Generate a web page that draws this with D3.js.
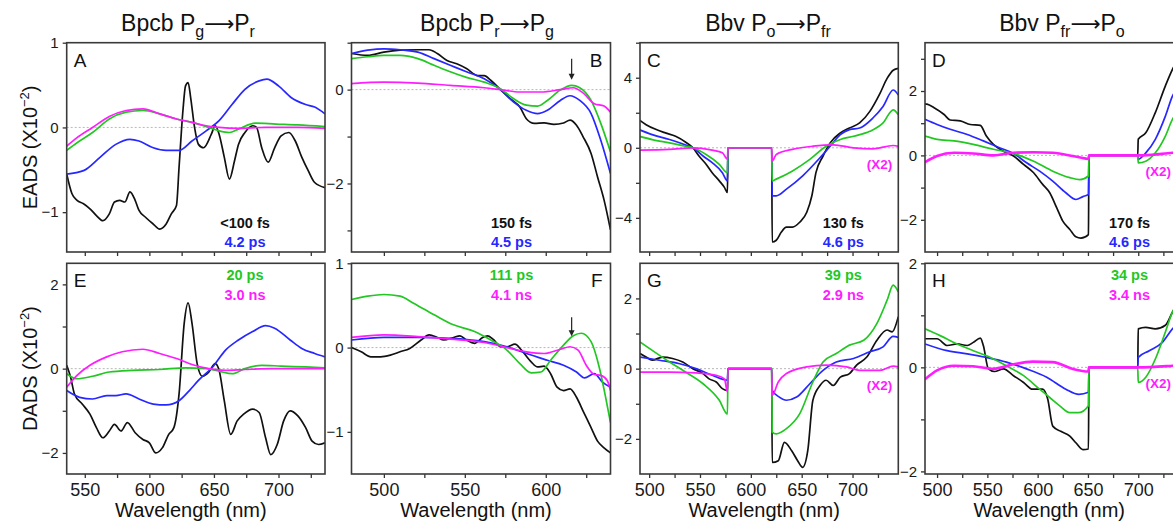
<!DOCTYPE html>
<html>
<head>
<meta charset="utf-8">
<script src="https://cdn.jsdelivr.net/npm/d3@7"></script>
<style>
body { margin: 0; background: #fff; }
svg { display: block; font-family: "Liberation Sans", Arial, sans-serif; }
</style>
</head>
<body>
<script>
// ---- data: [wavelength nm, amplitude x10^-2] ----
// panel A  (Bpcb Pg->Pr, EADS)
const A_black = [[536,-0.55],[540,-0.78],[544,-0.86],[549,-0.9],[554,-0.96],[559,-1.04],[564,-1.1],[569,-1.02],[573,-0.88],[577,-0.86],[581,-0.88],[585,-0.76],[589,-0.86],[592,-0.98],[597,-1.06],[603,-1.14],[608,-1.2],[613,-1.14],[617,-1.02],[621,-0.92],[623,-0.47],[626,0.2],[628,0.49],[630,0.53],[632,0.35],[635,0],[638,-0.2],[642,-0.24],[648,-0.08],[651,0.02],[654,-0.08],[658,-0.35],[662,-0.61],[666,-0.39],[669,-0.2],[674,-0.06],[680,0.02],[683,0],[687,-0.24],[692,-0.41],[697,-0.24],[702,-0.1],[708,-0.06],[713,-0.16],[718,-0.35],[723,-0.51],[728,-0.65],[736,-0.71]];
const A_blue = [[536,-0.55],[549,-0.51],[562,-0.35],[574,-0.2],[585,-0.14],[592,-0.16],[603,-0.24],[613,-0.27],[623,-0.27],[633,-0.16],[644,-0.04],[654,0.08],[664,0.27],[674,0.45],[685,0.55],[691,0.57],[700,0.49],[710,0.35],[721,0.27],[728,0.24],[736,0.16]];
const A_green = [[536,-0.27],[544,-0.18],[556,-0.06],[569,0.1],[582,0.18],[595,0.2],[608,0.16],[621,0.1],[633,0.06],[646,0],[654,-0.04],[662,-0.06],[669,-0.02],[682,0.05],[698,0.04],[715,0.03],[736,0.01]];
const A_magenta = [[536,-0.22],[544,-0.12],[556,0],[569,0.13],[582,0.2],[595,0.22],[608,0.16],[621,0.1],[633,0.06],[644,0.02],[654,0],[669,-0.01],[690,0],[715,0],[736,-0.01]];

// panel B  (Bpcb Pr->Pg, EADS)
const B_black = [[480,0.77],[490,0.73],[500,0.8],[510,0.84],[521,0.85],[528,0.85],[533,0.77],[539,0.62],[545,0.55],[551,0.45],[558,0.3],[562,0.3],[566,0.2],[572,0],[578,-0.19],[584,-0.37],[588,-0.62],[593,-0.72],[599,-0.71],[605,-0.74],[611,-0.71],[615,-0.65],[619,-0.76],[623,-1.0],[628,-1.36],[632,-1.86],[636,-2.35],[640,-2.99]];
const B_blue = [[480,0.77],[490,0.84],[500,0.87],[510,0.85],[521,0.8],[531,0.66],[541,0.52],[551,0.38],[562,0.23],[572,0],[580,-0.26],[588,-0.44],[595,-0.51],[601,-0.44],[609,-0.23],[615,-0.13],[621,-0.23],[628,-0.51],[634,-1.08],[640,-1.79]];
const B_green = [[480,0.66],[490,0.7],[500,0.73],[510,0.73],[521,0.66],[531,0.52],[541,0.38],[551,0.26],[562,0.16],[572,0.02],[580,-0.19],[588,-0.33],[595,-0.35],[601,-0.23],[609,-0.01],[616,0.09],[621,0.04],[628,-0.23],[634,-0.72],[640,-1.33]];
const B_magenta = [[480,0.13],[500,0.16],[521,0.14],[541,0.09],[562,0.04],[572,0],[584,-0.05],[597,-0.05],[609,0],[617,0.04],[623,-0.07],[630,-0.3],[636,-0.35],[640,-0.48]];

// panel C  (Bbv Po->Pfr, EADS)
const C_black = [[490,1.6],[497,1.32],[507,1.04],[516,0.85],[526,0.66],[536,0.32],[543,0],[549,-0.47],[556,-0.94],[562,-1.42],[569,-1.89],[574,-2.26],[577,-2.55],[577.5,0],[620.5,0],[621,-5.38],[625,-5.28],[630,-4.81],[635,-4.53],[641,-4.53],[648,-4.25],[655,-3.68],[660,-2.74],[664,-1.42],[671,-0.47],[678,0.28],[688,0.85],[697,1.13],[707,1.42],[717,2.08],[727,3.11],[734,3.96],[740,4.43],[745,4.53]];
const C_blue = [[490,1.04],[503,0.75],[520,0.47],[536,0.15],[543,0],[553,-0.47],[562,-0.85],[572,-1.42],[577,-1.89],[577.5,0],[620.5,0],[621,-2.74],[625,-2.74],[635,-2.36],[651,-1.6],[668,-0.57],[678,0.09],[688,0.75],[697,1.04],[707,1.13],[720,1.7],[730,2.36],[740,3.3],[745,3.02]];
const C_green = [[490,0.66],[503,0.47],[520,0.28],[536,0.09],[543,0],[556,-0.38],[569,-0.94],[577,-1.42],[577.5,0],[620.5,0],[621,-1.89],[625,-1.79],[641,-1.32],[658,-0.66],[674,0.09],[688,0.47],[701,0.66],[717,0.94],[730,1.42],[740,2.17],[745,1.89]];
const C_magenta = [[490,-0.13],[520,-0.09],[543,0],[562,-0.13],[572,-0.28],[577,-0.66],[577.5,0],[620.5,0],[621,-0.75],[625,-0.38],[641,-0.09],[661,0.09],[681,0.17],[701,0],[720,-0.06],[740,0.13],[745,0.09]];

// panel D  (Bbv Pfr->Po, EADS)
const D_black = [[488,1.6],[490,1.59],[497,1.48],[507,1.27],[513,1.1],[523,1.07],[533,0.96],[543,0.93],[549,0.6],[556,0.34],[566,0.13],[576,-0.02],[586,-0.28],[596,-0.54],[605,-0.9],[612,-1.16],[619,-1.63],[625,-2.04],[632,-2.3],[638,-2.53],[643,-2.57],[650.5,-2.46],[651,0],[699.5,0],[700,0.5],[707.5,0.7],[717,1.33],[727,2.16],[734,2.67],[742,3.1]];
const D_blue = [[488,1.12],[500,0.96],[513,0.81],[530,0.65],[546,0.45],[562,0.24],[576,0.06],[589,-0.23],[602,-0.49],[615,-0.8],[628,-1.16],[638,-1.37],[645,-1.28],[650.5,-1.21],[651,0],[699.5,0],[700,-0.12],[707.5,0.08],[717,0.5],[727,1.22],[734,1.84],[742,2.2]];
const D_green = [[488,0.6],[500,0.5],[517,0.45],[536,0.34],[556,0.19],[576,0.06],[596,-0.18],[615,-0.49],[632,-0.69],[642,-0.75],[650.5,-0.64],[651,0],[699.5,0],[700,-0.23],[707.5,-0.18],[717,0.08],[727,0.6],[734,1.12],[742,1.4]];
const D_magenta = [[488,-0.21],[500,-0.02],[517,0.08],[536,0.06],[556,0],[576,0.08],[596,0.1],[615,0.08],[635,-0.02],[648,-0.1],[650.5,-0.12],[651,0],[699.5,0],[700,0],[734,0.08],[742,0.1]];

// panel E  (Bpcb Pg->Pr, DADS)
const E_black = [[536,0.08],[539,-0.2],[542,-0.6],[548,-0.84],[554,-1.08],[559,-1.4],[564,-1.64],[569,-1.48],[573,-1.32],[578,-1.48],[583,-1.28],[589,-1.52],[595,-1.68],[600,-1.76],[605,-2.0],[610,-1.88],[615,-1.56],[619,-1.4],[623,-0.6],[627,1.08],[630,1.56],[633,1.08],[637,0.12],[641,-0.18],[646,-0.08],[651,0.12],[654,-0.04],[658,-0.76],[663,-1.56],[668,-1.24],[673,-1.08],[680,-0.96],[685,-1.04],[690,-1.64],[694,-2.04],[699,-1.8],[704,-1.24],[709,-1.0],[715,-1.12],[721,-1.4],[726,-1.72],[731,-1.8],[736,-1.76]];
const E_blue = [[536,-0.52],[546,-0.68],[556,-0.72],[567,-0.64],[574,-0.64],[582,-0.6],[592,-0.72],[603,-0.84],[613,-0.86],[623,-0.76],[631,-0.52],[638,-0.28],[649,0.04],[659,0.44],[669,0.68],[680,0.88],[690,1.02],[697,0.96],[709,0.68],[718,0.48],[728,0.36],[736,0.28]];
const E_green = [[536,-0.12],[544,-0.24],[556,-0.18],[569,-0.08],[587,-0.04],[608,-0.02],[628,0.02],[644,0],[654,-0.06],[664,-0.12],[674,0],[687,0.08],[702,0.06],[721,0.04],[736,0.02]];
const E_magenta = [[536,-0.44],[544,-0.16],[554,0.08],[567,0.28],[579,0.4],[595,0.46],[608,0.36],[621,0.24],[633,0.1],[646,0],[659,-0.04],[674,-0.02],[695,0],[736,0]];

// panel F  (Bpcb Pr->Pg, DADS)
const F_black = [[480,0],[486,-0.05],[492,-0.11],[498,-0.11],[504,-0.09],[510,-0.05],[516,-0.01],[523,0.09],[528,0.15],[533,0.12],[537,0.09],[543,0.12],[547,0.14],[551,0.09],[556,0.05],[561,0.12],[564,0.14],[568,0.09],[572,0.01],[576,0.01],[581,0.04],[585,-0.03],[591,-0.17],[595,-0.23],[599,-0.22],[603,-0.31],[607,-0.47],[611,-0.51],[615,-0.49],[619,-0.59],[623,-0.75],[628,-0.95],[632,-1.11],[636,-1.19],[640,-1.25]];
const F_blue = [[480,0.09],[500,0.12],[521,0.12],[541,0.11],[562,0.07],[576,0.01],[588,-0.07],[601,-0.15],[611,-0.21],[619,-0.29],[624,-0.36],[630,-0.31],[635,-0.41],[640,-0.47]];
const F_green = [[480,0.57],[490,0.61],[500,0.63],[510,0.61],[518,0.53],[531,0.39],[543,0.27],[556,0.19],[566,0.09],[576,-0.03],[584,-0.19],[591,-0.3],[597,-0.29],[603,-0.15],[611,0.03],[617,0.14],[622,0.17],[628,0.07],[633,-0.23],[637,-0.59],[640,-0.89]];
const F_magenta = [[480,0.12],[500,0.15],[521,0.13],[541,0.1],[562,0.06],[576,0],[588,-0.05],[599,-0.07],[609,-0.02],[615,0.01],[620,-0.03],[625,-0.21],[630,-0.32],[634,-0.33],[638,-0.39],[640,-0.51]];

// panel G  (Bbv Po->Pfr, DADS)
const G_black = [[491,0.43],[497,0.33],[503,0.24],[513,0.33],[523,0.29],[533,0.19],[543,0],[553,-0.14],[559,-0.29],[566,-0.38],[572,-0.57],[577,-0.62],[577.5,0],[620.5,0],[621,-2.67],[627,-2.62],[633,-2.1],[640,-2.33],[646,-2.62],[651,-2.81],[656,-2.33],[661,-0.9],[668,-0.48],[674,-0.33],[681,-0.48],[688,-0.24],[697,-0.14],[704,0.1],[714,0.33],[724,0.81],[734,1.1],[739,1.05],[745,1.48]];
const G_blue = [[491,0.33],[510,0.24],[530,0.14],[546,0],[562,-0.19],[577,-0.33],[577.5,0],[620.5,0],[621,-0.62],[628,-0.81],[635,-0.9],[645,-0.81],[658,-0.43],[671,-0.05],[684,0.19],[701,0.29],[717,0.48],[730,0.62],[740,0.92],[745,0.89]];
const G_green = [[491,0.76],[503,0.52],[520,0.19],[536,-0.1],[553,-0.43],[569,-0.9],[577,-1.29],[577.5,0],[620.5,0],[621,-1.81],[625,-1.86],[635,-1.71],[648,-1.29],[661,-0.38],[671,0.19],[684,0.43],[697,0.67],[711,0.81],[724,1.29],[734,1.95],[740,2.38],[745,2.19]];
const G_magenta = [[491,-0.1],[520,-0.1],[546,-0.12],[566,-0.19],[574,-0.29],[577,-0.67],[577.5,0],[620.5,0],[621,-0.76],[627,-0.38],[635,-0.14],[655,0.05],[674,0.1],[694,0.05],[707,-0.05],[727,-0.05],[740,0.07],[745,0.05]];

// panel H  (Bbv Pfr->Po, DADS)
const H_black = [[488,0.55],[500,0.55],[510,0.42],[520,0.45],[530,0.42],[536,0.48],[543,0.56],[546,0.42],[551,-0.03],[557,-0.08],[566,-0.03],[576,-0.16],[586,-0.29],[595,-0.42],[605,-0.42],[610,-0.61],[615,-1.13],[623,-1.23],[632,-1.32],[638,-1.45],[645,-1.58],[650.5,-1.57],[651,0],[699.5,0],[700,0.74],[707.5,0.77],[717,0.74],[727,0.81],[734,1.06],[742,1.3]];
const H_blue = [[488,0.45],[510,0.32],[530,0.26],[549,0.19],[569,0.1],[589,-0.03],[609,-0.19],[628,-0.42],[641,-0.52],[650.5,-0.48],[651,0],[699.5,0],[700,0.19],[711,0.32],[724,0.48],[734,0.74],[742,0.9]];
const H_green = [[488,0.74],[503,0.61],[520,0.45],[536,0.32],[553,0.19],[569,0.03],[586,-0.16],[602,-0.42],[612,-0.58],[622,-0.74],[632,-0.87],[641,-0.87],[650.5,-0.74],[651,0],[699.5,0],[700,-0.29],[707.5,-0.19],[717,0.16],[727,0.68],[734,1.06],[742,1.3]];
const H_magenta = [[488,-0.23],[500,-0.06],[517,0.03],[536,0.02],[556,-0.03],[576,0.06],[595,0.11],[615,0.1],[635,-0.03],[650.5,-0.08],[651,0],[699.5,0],[700,0],[734,0.03],[742,0.04]];

// lifetimes of the four components
const fastLife = ["<100 fs", "150 fs", "130 fs", "170 fs"];
const midLife = ["4.2 ps", "4.5 ps", "4.6 ps", "4.6 ps"];
const slowLife = ["20 ps", "111 ps", "39 ps", "34 ps"];
const finalLife = ["3.0 ns", "4.1 ns", "2.9 ns", "3.4 ns"];

// column titles
const titleMol = ["Bpcb", "Bpcb", "Bbv", "Bbv"];
const titleFrom = ["g", "r", "o", "fr"];
const titleTo = ["r", "g", "fr", "o"];

// axis ranges / ticks
const xDomains = [[536, 736], [480, 640], [491, 745], [488, 745]];
const yDomainsTop = [[-1.47, 1], [-3.46, 1], [-5.95, 6], [-3, 3.5]];
const yDomainsBot = [[-2.5, 2.5], [-1.5, 1], [-3, 3], [-2.05, 2]];
const yTicksTop = [[1, 0, -1], [1, 0, -1, -2, -3], [6, 4, 2, 0, -2, -4], [3, 2, 1, 0, -1, -2]];
const yLabelsTop = [[1, 0, -1], [0, -2], [4, 0, -4], [2, 0, -2]];
const yTicksBot = [[2, 1, 0, -1, -2], [1, 0, -1], [2, 1, 0, -1, -2], [2, 1, 0, -1, -2]];
const yLabelsBot = [[2, 0, -2], [1, 0, -1], [2, 0, -2], [2, 0, -2]];
const xTickValues = [d3.range(550, 736, 25), d3.range(500, 640, 25), d3.range(500, 745, 25), d3.range(500, 745, 25)];
const panelLetters = ["A", "B", "C", "D", "E", "F", "G", "H"];

// ---- layout ----
const W = 1173, H = 524;
const cols = [[66.7, 325], [351.5, 610.5], [640, 898.3], [925, 1183.5]];
const rows = [[42.7, 252], [263.3, 474]];
const colors = ["#111111", "#2727ff", "#22c722", "#ff1cff"];
const lifeX = [80, 99, 55, 54];      // distance of lifetime labels from right frame

const seriesTop = [[A_black, A_blue, A_green, A_magenta], [B_black, B_blue, B_green, B_magenta], [C_black, C_blue, C_green, C_magenta], [D_black, D_blue, D_green, D_magenta]];
const seriesBot = [[E_black, E_blue, E_green, E_magenta], [F_black, F_blue, F_green, F_magenta], [G_black, G_blue, G_green, G_magenta], [H_black, H_blue, H_green, H_magenta]];

const svg = d3.select("body").append("svg").attr("width", W).attr("height", H);
const defs = svg.append("defs");
const minus = v => (v < 0 ? "\u2212" + Math.abs(v) : String(v));

function drawPanel(c, r) {
  const [x0, x1] = cols[c], [y0, y1] = rows[r];
  const idx = r * 4 + c;
  const x = d3.scaleLinear().domain(xDomains[c]).range([x0, x1]);
  const y = d3.scaleLinear().domain(r === 0 ? yDomainsTop[c] : yDomainsBot[c]).range([y1, y0]);
  const g = svg.append("g");

  defs.append("clipPath").attr("id", "clip" + idx)
    .append("rect").attr("x", x0).attr("y", y0).attr("width", x1 - x0).attr("height", y1 - y0);

  // dotted zero line
  g.append("line")
    .attr("x1", x0).attr("x2", x1).attr("y1", y(0)).attr("y2", y(0))
    .attr("stroke", "#b8b8b8").attr("stroke-width", 1).attr("stroke-dasharray", "2,2");

  const line = d3.line().x(d => x(d[0])).y(d => y(d[1])).curve(d3.curveMonotoneX);
  const lg = g.append("g").attr("clip-path", "url(#clip" + idx + ")");
  const data = r === 0 ? seriesTop[c] : seriesBot[c];
  data.forEach((s, j) => {
    const noisy = j === 3 && c === 3;
    lg.append("path").datum(s)
      .attr("d", line)
      .attr("fill", "none")
      .attr("stroke", colors[j])
      .attr("stroke-width", noisy ? 2.6 : 1.7)
      .attr("stroke-linejoin", "round");
  });

  // y axis
  const yt = r === 0 ? yTicksTop[c] : yTicksBot[c];
  const yl = r === 0 ? yLabelsTop[c] : yLabelsBot[c];
  const ya = g.append("g").attr("transform", `translate(${x0},0)`)
    .call(d3.axisLeft(y).tickValues(yt).tickSize(4).tickPadding(4)
      .tickFormat(v => yl.includes(v) ? minus(v) : ""));
  // x axis
  const xa = g.append("g").attr("transform", `translate(0,${y1})`)
    .call(d3.axisBottom(x).tickValues(xTickValues[c]).tickSize(4).tickPadding(5)
      .tickFormat(v => r === 1 && v % 50 === 0 ? v : ""));
  [ya, xa].forEach(a => {
    a.select(".domain").remove();
    a.selectAll(".tick line").attr("stroke", "#333").attr("stroke-width", 1.3);
    a.selectAll(".tick text").attr("fill", "#1a1a1a").style("font-family", "'Liberation Sans', Arial, sans-serif");
  });
  ya.selectAll(".tick text").style("font-size", "15px");
  xa.selectAll(".tick text").style("font-size", "18px");

  // frame
  g.append("rect").attr("x", x0).attr("y", y0).attr("width", x1 - x0).attr("height", y1 - y0)
    .attr("fill", "none").attr("stroke", "#3a3a3a").attr("stroke-width", 1.6);

  // panel letter
  const rightLetter = c === 1;
  g.append("text")
    .attr("x", rightLetter ? x1 - 8 : x0 + 7)
    .attr("y", y0 + 24)
    .attr("text-anchor", rightLetter ? "end" : "start")
    .style("font-size", "19px").attr("fill", "#111")
    .text(panelLetters[idx]);

  // lifetime labels
  const lx = x1 - lifeX[c];
  if (r === 0) {
    g.append("text").attr("x", lx).attr("y", y0 + 185).attr("text-anchor", "middle")
      .style("font-size", "14.5px").style("font-weight", "bold").attr("fill", colors[0]).text(fastLife[c]);
    g.append("text").attr("x", lx).attr("y", y0 + 204).attr("text-anchor", "middle")
      .style("font-size", "14.5px").style("font-weight", "bold").attr("fill", colors[1]).text(midLife[c]);
  } else {
    g.append("text").attr("x", lx).attr("y", y0 + 17).attr("text-anchor", "middle")
      .style("font-size", "14.5px").style("font-weight", "bold").attr("fill", colors[2]).text(slowLife[c]);
    g.append("text").attr("x", lx).attr("y", y0 + 37).attr("text-anchor", "middle")
      .style("font-size", "14.5px").style("font-weight", "bold").attr("fill", colors[3]).text(finalLife[c]);
  }

  // "(x2)" scale note for the Bbv magenta traces
  if (c >= 2) {
    const edge = Math.min(x1 - 6, W - 2);
    g.append("text").attr("x", edge).attr("y", y(0) + 21).attr("text-anchor", "end")
      .style("font-size", "13.5px").style("font-weight", "bold").attr("fill", colors[3]).text("(X2)");
  }

  // arrows marking the 616 nm feature in Bpcb Pr->Pg
  if (c === 1) {
    const ax = x(616);
    const top = r === 0 ? y0 + 16 : y0 + 54;
    const len = r === 0 ? 21 : 19;
    g.append("line").attr("x1", ax).attr("x2", ax).attr("y1", top).attr("y2", top + len - 4)
      .attr("stroke", "#222").attr("stroke-width", 1.2);
    g.append("path").attr("d", `M${ax - 3},${top + len - 6}L${ax + 3},${top + len - 6}L${ax},${top + len}Z`)
      .attr("fill", "#222");
  }
}

for (let r = 0; r < 2; r++) for (let c = 0; c < 4; c++) drawPanel(c, r);

// column titles
const titleX = [188, 487, 768, 1062];
titleMol.forEach((m, c) => {
  const t = svg.append("text").attr("x", titleX[c]).attr("y", 31).attr("text-anchor", "middle")
    .style("font-size", "23px").attr("fill", "#111");
  t.append("tspan").text(m + " P");
  t.append("tspan").attr("dy", 6).style("font-size", "16px").text(titleFrom[c]);
  t.append("tspan").attr("dy", -6).style("font-family", "'DejaVu Sans', sans-serif").style("font-size", "21px").text("\u27F6");
  t.append("tspan").text("P");
  t.append("tspan").attr("dy", 6).style("font-size", "16px").text(titleTo[c]);
});

// y axis titles
[["EADS", (rows[0][0] + rows[0][1]) / 2], ["DADS", (rows[1][0] + rows[1][1]) / 2]].forEach(([lab, cy]) => {
  const t = svg.append("text").attr("transform", `translate(37,${cy}) rotate(-90)`)
    .attr("text-anchor", "middle").style("font-size", "20px").attr("fill", "#111");
  t.append("tspan").text(lab + " (X10");
  t.append("tspan").attr("dy", -8).style("font-size", "13px").text("\u22122");
  t.append("tspan").attr("dy", 8).text(")");
});

// x axis titles
cols.forEach(([x0, x1]) => {
  svg.append("text").attr("x", Math.min((x0 + x1) / 2 - 5, 1140)).attr("y", 517).attr("text-anchor", "middle")
    .style("font-size", "20px").attr("fill", "#111").text("Wavelength (nm)");
});
</script>
</body>
</html>
